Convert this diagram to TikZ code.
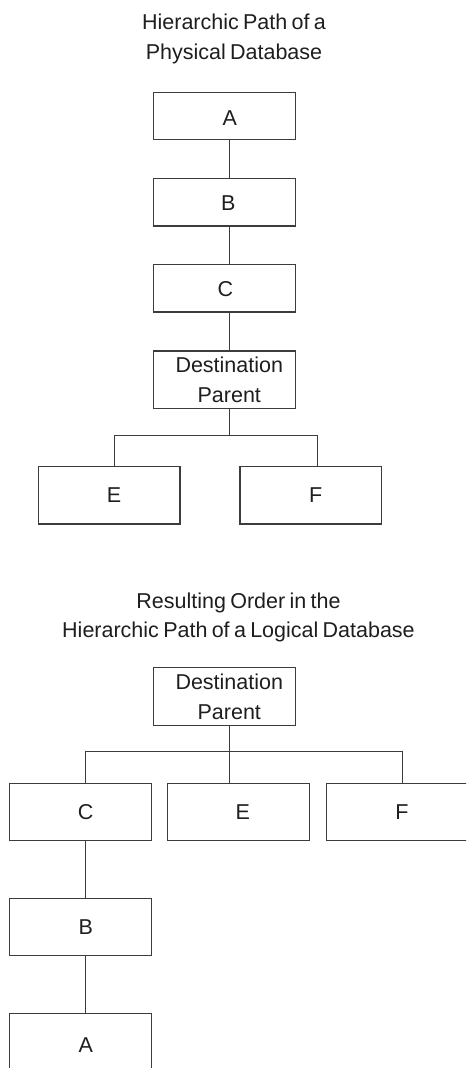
\documentclass[tikz,border=0pt]{standalone}
\usepackage{fontspec}
\setmainfont{Liberation Sans}
\usetikzlibrary{calc}
\definecolor{ln}{HTML}{3C3C3C}
\definecolor{tx}{HTML}{1E1E1E}
\newcommand\myttlfont{\fontsize{21.5}{29.7}\selectfont\spaceskip=0.2em\relax}
\newcommand\mylblfont{\fontsize{21.5}{29.7}\selectfont}
\begin{document}
\begin{tikzpicture}[x=1pt,y=-1pt,
  bx/.style={draw=ln, line width=1.1pt, minimum width=142pt, minimum height=57.4pt, inner sep=0pt, outer sep=0pt},
  bxs/.style={bx, minimum height=47.3pt},
  lbl/.style={text=tx, font=\mylblfont, align=center, inner sep=0pt},
  ttl/.style={text=tx, font=\myttlfont, anchor=base, inner sep=0pt},
  con/.style={draw=ln, line width=1.1pt}]
\useasboundingbox (0,0) rectangle (466,1068);
\clip (0,0) rectangle (466,1068);
% ---------- top diagram ----------
\node[ttl] (t1a) at (234,29.3) {Hierarchic Path of a};
\node[ttl] (t1b) at (234,59.3) {Physical Database};
\node[bxs, label={[lbl,xshift=5.5pt,yshift=-2pt]center:A}] (A1) at (224.3,115.7) {};
\node[bxs, label={[lbl,xshift=4pt,yshift=-1pt]center:B}] (B1) at (224.3,202.3) {};
\node[bxs, label={[lbl,xshift=1pt,yshift=-1pt]center:C}] (C1) at (224.3,288.3) {};
\node[bx, label={[lbl,xshift=5pt]center:{Destination\\Parent}}] (D1) at (224.3,379.7) {};
\node[bx, minimum width=141.3pt, label={[lbl,xshift=4.7pt]center:E}] (E1) at (109.3,495.3) {};
\node[bx, minimum width=141.7pt, label={[lbl,xshift=5pt]center:F}] (F1) at (310.8,495.3) {};
\draw[con] ([xshift=5pt]A1.south) -- ([xshift=5pt]B1.north);
\draw[con] ([xshift=5pt]B1.south) -- ([xshift=5pt]C1.north);
\draw[con] ([xshift=5pt]C1.south) -- ([xshift=5pt]D1.north);
\draw[con] ([xshift=5pt]D1.south) -- ++(0,26.7) coordinate (j1);
\draw[con] ([xshift=5pt]E1.north) |- (j1) -| ([xshift=7pt]F1.north);
% ---------- bottom diagram ----------
\node[ttl] (t2a) at (238.5,608.3) {Resulting Order in the};
\node[ttl] (t2b) at (238.5,637.7) {Hierarchic Path of a Logical Database};
\node[bx, label={[lbl,xshift=5pt]center:{Destination\\Parent}}] (D2) at (224.3,696.5) {};
\node[bx, label={[lbl,xshift=5.4pt]center:C}] (C2) at (80.3,812) {};
\node[bx, minimum width=141.7pt, label={[lbl,xshift=4.5pt]center:E}] (E2) at (238.2,812) {};
\node[bx, minimum width=141.2pt, label={[lbl,xshift=5pt]center:F}] (F2) at (396.9,812) {};
\node[bx, label={[lbl,xshift=5.4pt]center:B}] (B2) at (80.3,927) {};
\node[bx, label={[lbl,xshift=5.4pt,yshift=-3pt]center:A}] (A2) at (80.3,1042.4) {};
\draw[con] ([xshift=5.4pt]D2.south) -- ++(0,26.7) coordinate (j2);
\draw[con] (j2) -- (j2 |- E2.north);
\draw[con] ([xshift=5.4pt]C2.north) |- (j2) -| ([xshift=5.4pt]F2.north);
\draw[con] ([xshift=5.4pt]C2.south) -- ([xshift=5.4pt]B2.north);
\draw[con] ([xshift=5.4pt]B2.south) -- ([xshift=5.4pt]A2.north);
\end{tikzpicture}
\end{document}
